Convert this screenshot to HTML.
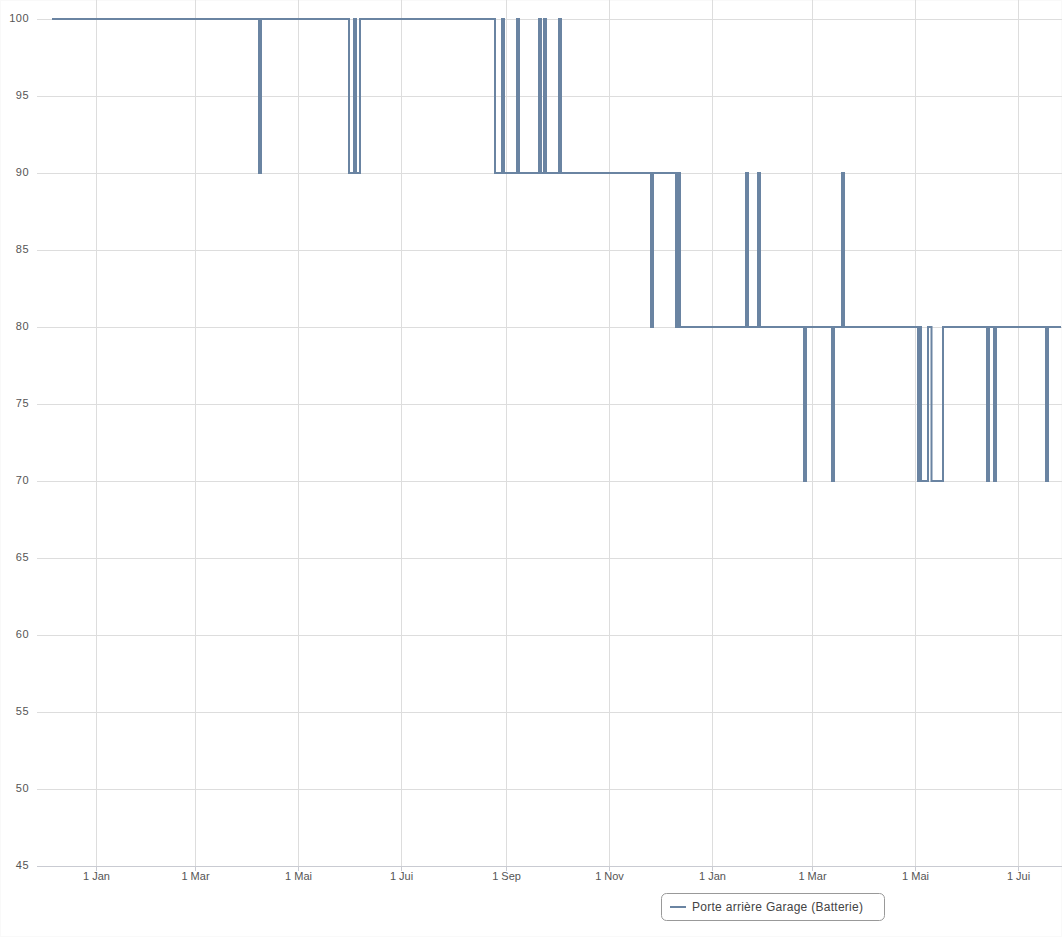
<!DOCTYPE html>
<html><head><meta charset="utf-8"><style>
html,body{margin:0;padding:0;background:#fff;width:1062px;height:937px;overflow:hidden}
.wrap{position:absolute;left:0;top:0;width:1060px;height:935px;border:1px solid #f9f9f9}
svg{position:absolute;left:0;top:0}
.lab{font-family:"Liberation Sans",sans-serif;font-size:11px;fill:#555555}
.leg{font-family:"Liberation Sans",sans-serif;font-size:12px;fill:#444444}
</style></head><body>
<div class="wrap"></div>
<svg width="1062" height="937" viewBox="0 0 1062 937">
<line x1="96.5" y1="0" x2="96.5" y2="866" stroke="#dddddd" stroke-width="1"/>
<line x1="195.5" y1="0" x2="195.5" y2="866" stroke="#dddddd" stroke-width="1"/>
<line x1="298.5" y1="0" x2="298.5" y2="866" stroke="#dddddd" stroke-width="1"/>
<line x1="401.5" y1="0" x2="401.5" y2="866" stroke="#dddddd" stroke-width="1"/>
<line x1="506.5" y1="0" x2="506.5" y2="866" stroke="#dddddd" stroke-width="1"/>
<line x1="609.5" y1="0" x2="609.5" y2="866" stroke="#dddddd" stroke-width="1"/>
<line x1="712.5" y1="0" x2="712.5" y2="866" stroke="#dddddd" stroke-width="1"/>
<line x1="812.5" y1="0" x2="812.5" y2="866" stroke="#dddddd" stroke-width="1"/>
<line x1="915.5" y1="0" x2="915.5" y2="866" stroke="#dddddd" stroke-width="1"/>
<line x1="1018.5" y1="0" x2="1018.5" y2="866" stroke="#dddddd" stroke-width="1"/>
<line x1="37" y1="19.5" x2="1062" y2="19.5" stroke="#dddddd" stroke-width="1"/>
<line x1="37" y1="96.5" x2="1062" y2="96.5" stroke="#dddddd" stroke-width="1"/>
<line x1="37" y1="173.5" x2="1062" y2="173.5" stroke="#dddddd" stroke-width="1"/>
<line x1="37" y1="250.5" x2="1062" y2="250.5" stroke="#dddddd" stroke-width="1"/>
<line x1="37" y1="327.5" x2="1062" y2="327.5" stroke="#dddddd" stroke-width="1"/>
<line x1="37" y1="404.5" x2="1062" y2="404.5" stroke="#dddddd" stroke-width="1"/>
<line x1="37" y1="481.5" x2="1062" y2="481.5" stroke="#dddddd" stroke-width="1"/>
<line x1="37" y1="558.5" x2="1062" y2="558.5" stroke="#dddddd" stroke-width="1"/>
<line x1="37" y1="635.5" x2="1062" y2="635.5" stroke="#dddddd" stroke-width="1"/>
<line x1="37" y1="712.5" x2="1062" y2="712.5" stroke="#dddddd" stroke-width="1"/>
<line x1="37" y1="789.5" x2="1062" y2="789.5" stroke="#dddddd" stroke-width="1"/>
<line x1="37" y1="866.5" x2="1062" y2="866.5" stroke="#c9cbd2" stroke-width="1"/>
<line x1="96.5" y1="866" x2="96.5" y2="871" stroke="#c9cbd2" stroke-width="1"/>
<line x1="195.5" y1="866" x2="195.5" y2="871" stroke="#c9cbd2" stroke-width="1"/>
<line x1="298.5" y1="866" x2="298.5" y2="871" stroke="#c9cbd2" stroke-width="1"/>
<line x1="401.5" y1="866" x2="401.5" y2="871" stroke="#c9cbd2" stroke-width="1"/>
<line x1="506.5" y1="866" x2="506.5" y2="871" stroke="#c9cbd2" stroke-width="1"/>
<line x1="609.5" y1="866" x2="609.5" y2="871" stroke="#c9cbd2" stroke-width="1"/>
<line x1="712.5" y1="866" x2="712.5" y2="871" stroke="#c9cbd2" stroke-width="1"/>
<line x1="812.5" y1="866" x2="812.5" y2="871" stroke="#c9cbd2" stroke-width="1"/>
<line x1="915.5" y1="866" x2="915.5" y2="871" stroke="#c9cbd2" stroke-width="1"/>
<line x1="1018.5" y1="866" x2="1018.5" y2="871" stroke="#c9cbd2" stroke-width="1"/>
<text x="29.1" y="22" text-anchor="end" class="lab" letter-spacing="0.5">100</text>
<text x="29.1" y="99" text-anchor="end" class="lab" letter-spacing="0.5">95</text>
<text x="29.1" y="176" text-anchor="end" class="lab" letter-spacing="0.5">90</text>
<text x="29.1" y="253" text-anchor="end" class="lab" letter-spacing="0.5">85</text>
<text x="29.1" y="330" text-anchor="end" class="lab" letter-spacing="0.5">80</text>
<text x="29.1" y="407" text-anchor="end" class="lab" letter-spacing="0.5">75</text>
<text x="29.1" y="484" text-anchor="end" class="lab" letter-spacing="0.5">70</text>
<text x="29.1" y="561" text-anchor="end" class="lab" letter-spacing="0.5">65</text>
<text x="29.1" y="638" text-anchor="end" class="lab" letter-spacing="0.5">60</text>
<text x="29.1" y="715" text-anchor="end" class="lab" letter-spacing="0.5">55</text>
<text x="29.1" y="792" text-anchor="end" class="lab" letter-spacing="0.5">50</text>
<text x="29.1" y="869" text-anchor="end" class="lab" letter-spacing="0.5">45</text>
<text x="96.5" y="880" text-anchor="middle" class="lab">1 Jan</text>
<text x="195.5" y="880" text-anchor="middle" class="lab">1 Mar</text>
<text x="298.5" y="880" text-anchor="middle" class="lab">1 Mai</text>
<text x="401.5" y="880" text-anchor="middle" class="lab">1 Jui</text>
<text x="506.5" y="880" text-anchor="middle" class="lab">1 Sep</text>
<text x="609.5" y="880" text-anchor="middle" class="lab">1 Nov</text>
<text x="712.5" y="880" text-anchor="middle" class="lab">1 Jan</text>
<text x="812.5" y="880" text-anchor="middle" class="lab">1 Mar</text>
<text x="915.5" y="880" text-anchor="middle" class="lab">1 Mai</text>
<text x="1018.5" y="880" text-anchor="middle" class="lab">1 Jui</text>
<path d="M 52 19 L 259 19 L 259 173 L 261 173 L 261 19 L 349 19 L 349 173 L 354 173 L 354 19 L 356 19 L 356 173 L 360 173 L 360 19 L 495 19 L 495 173 L 502 173 L 502 19 L 504 19 L 504 173 L 517 173 L 517 19 L 519 19 L 519 173 L 539 173 L 539 19 L 541 19 L 541 173 L 544 173 L 544 19 L 546 19 L 546 173 L 559 173 L 559 19 L 561 19 L 561 173 L 651 173 L 651 327 L 653 327 L 653 173 L 676 173 L 676 327 L 678 327 L 678 173 L 680 173 L 680 327 L 746 327 L 746 173 L 748 173 L 748 327 L 758 327 L 758 173 L 760 173 L 760 327 L 804 327 L 804 481 L 806 481 L 806 327 L 832 327 L 832 481 L 834 481 L 834 327 L 842 327 L 842 173 L 844 173 L 844 327 L 918 327 L 918 481 L 920 481 L 920 327 L 921 327 L 921 481 L 928 481 L 928 327 L 931.5 327 L 931.5 481 L 943 481 L 943 327 L 987 327 L 987 481 L 989 481 L 989 327 L 994 327 L 994 481 L 996 481 L 996 327 L 1046 327 L 1046 481 L 1048 481 L 1048 327 L 1061 327" fill="none" stroke="#6a84a2" stroke-width="2" stroke-linejoin="miter" stroke-linecap="butt"/>
<rect x="661.5" y="893.5" width="223" height="27" rx="5" ry="5" fill="none" stroke="#999999" stroke-width="1"/>
<path d="M 670 907 L 686 907" stroke="#6a84a2" stroke-width="2" fill="none"/>
<text x="692" y="911" class="leg" textLength="171" lengthAdjust="spacing">Porte arrière Garage (Batterie)</text>
</svg>
</body></html>
